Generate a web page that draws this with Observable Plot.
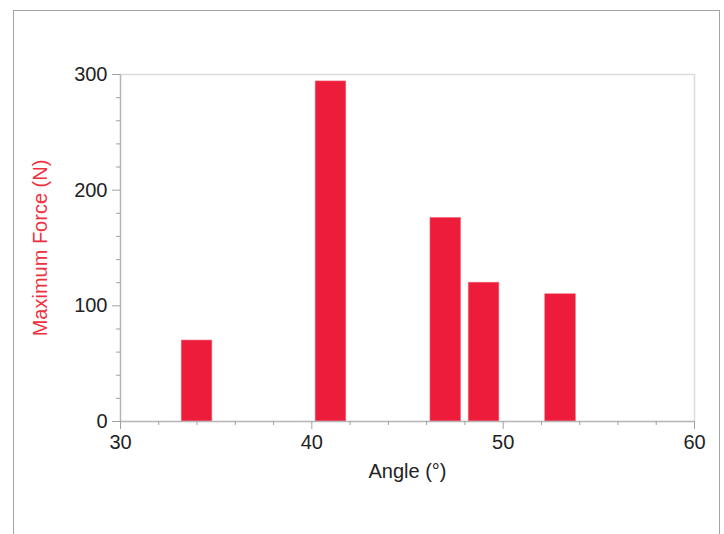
<!DOCTYPE html>
<html>
<head>
<meta charset="utf-8">
<script src="https://cdn.jsdelivr.net/npm/d3@7"></script>
<script src="https://cdn.jsdelivr.net/npm/@observablehq/plot@0.6"></script>
<style>
  html, body { margin: 0; padding: 0; background: #fff; }
  #wrap { position: relative; width: 724px; height: 534px; overflow: hidden; }
  #border { position: absolute; left: 13px; top: 10px; width: 707px; height: 600px; border: 1.5px solid #a3a3a3; box-sizing: border-box; }
  #chart { position: absolute; left: 0; top: 0; }
</style>
</head>
<body>
<div id="wrap"><div id="border"></div><div id="chart"></div></div>
<script>
const angles = [34, 41, 47, 49, 53];
const forces = [70, 294, 176, 120, 110];
const binHalfWidth = 0.8;
const xMajorTicks = [30, 40, 50, 60];
const xMinorTicks = [32, 34, 36, 38, 42, 44, 46, 48, 52, 54, 56, 58];
const yMajorTicks = [0, 100, 200, 300];
const yMinorTicks = [20, 40, 60, 80, 120, 140, 160, 180, 220, 240, 260, 280];

const data = angles.map((a, i) => ({angle: a, force: forces[i]}));

const chart = Plot.plot({
  width: 724,
  height: 534,
  marginLeft: 120,
  marginRight: 30,
  marginTop: 74,
  marginBottom: 113,
  style: {fontFamily: "Liberation Sans, Arial, sans-serif", background: "transparent", color: "#222"},
  x: {domain: [30, 60]},
  y: {domain: [0, 300]},
  marks: [
    Plot.ruleY([300], {stroke: "#dcdcdc", strokeWidth: 1.5}),
    Plot.ruleX([60], {stroke: "#dcdcdc", strokeWidth: 1.5}),
    Plot.rectY(data, {
      x1: d => d.angle - binHalfWidth,
      x2: d => d.angle + binHalfWidth,
      y1: 0,
      y2: "force",
      fill: "#ed1c3a",
      stroke: "#f26a78",
      strokeWidth: 0.6
    }),
    Plot.ruleX([30], {stroke: "#b5b5b5", strokeWidth: 1.5}),
    Plot.ruleY([0], {stroke: "#b5b5b5", strokeWidth: 1.5}),
    Plot.axisX({ticks: xMinorTicks, tickSize: 4, text: null, label: null, stroke: "#a0a0a0"}),
    Plot.axisX({ticks: xMajorTicks, tickSize: 8, tickPadding: 5, fontSize: 20, stroke: "#a0a0a0", fill: "#222",
      label: "Angle (°)", labelAnchor: "center", labelArrow: "none", labelOffset: 56}),
    Plot.axisY({ticks: yMinorTicks, tickSize: 4, text: null, label: null, stroke: "#a0a0a0"}),
    Plot.axisY({ticks: yMajorTicks, tickSize: 8, tickPadding: 5, fontSize: 20, stroke: "#a0a0a0", fill: "#222",
      label: null}),
    Plot.text(["Maximum Force (N)"], {
      frameAnchor: "left", dx: -80, rotate: -90, fontSize: 20, fill: "#ef3040", textAnchor: "middle"
    })
  ]
});
chart.querySelectorAll("[aria-label='x-axis label'] text").forEach(t => { t.setAttribute("font-size", "20"); });
document.getElementById("chart").appendChild(chart);
</script>
</body>
</html>
